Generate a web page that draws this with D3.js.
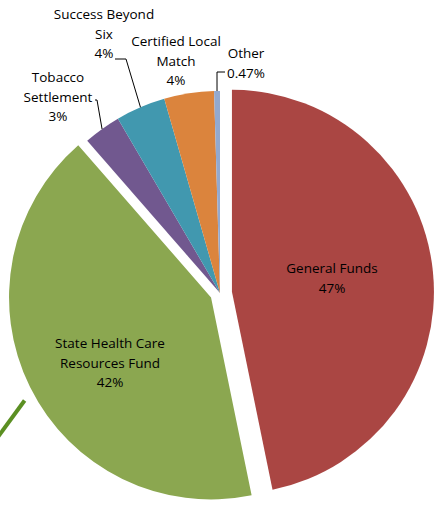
<!DOCTYPE html>
<html>
<head>
<meta charset="utf-8">
<script src="https://cdn.jsdelivr.net/npm/d3@7"></script>
<style>
body { margin: 0; background: #fff; }
text { font-family: "Open Sans", "Liberation Sans", Arial, sans-serif; font-size: 13.5px; fill: #000; }
</style>
</head>
<body>
<div id="chart"></div>
<script>
// data
var categories = ["General Funds", "State Health Care Resources Fund", "Tobacco Settlement",
                  "Success Beyond Six", "Certified Local Match", "Other"];
var values = [47, 42, 3, 4, 4, 0.47];
var pctLabels = ["47%", "42%", "3%", "4%", "4%", "0.47%"];
var nameLines = [["General Funds"], ["State Health Care", "Resources Fund"], ["Tobacco", "Settlement"],
                 ["Success Beyond", "Six"], ["Certified Local", "Match"], ["Other"]];

var colors = ["#AA4643", "#8BA750", "#71588F", "#4198AF", "#DB843D", "#93A9CF"];
var explode = [12, 10, 0, 0, 0, 0];

// label placement (x centre, first baseline) and leader elbows
var labelPos = [[332, 273], [110, 348], [58, 82], [104, 19], [176, 46], [246, 58]];
var leaders = {2: [[95, 100], [97, 100]], 3: [[115, 59], [126, 59]], 5: [[225, 72], [217, 72]]};

var width = 434, height = 529,
    cx = 220, cy = 293, radius = 202, lineH = 19.5;

var svg = d3.select("#chart").append("svg")
    .attr("width", width)
    .attr("height", height);

var data = categories.map(function (c, i) {
    return {name: c, value: values[i], i: i};
});

var pie = d3.pie().sort(null).value(function (d) { return d.value; });
var arc = d3.arc().innerRadius(0).outerRadius(radius);
var arcs = pie(data);

function offset(d) {
    var mid = (d.startAngle + d.endAngle) / 2, e = explode[d.data.i];
    return [cx + e * Math.sin(mid), cy - e * Math.cos(mid)];
}

var g = svg.append("g");

g.selectAll("path.slice")
    .data(arcs)
    .enter().append("path")
    .attr("class", "slice")
    .attr("transform", function (d) { return "translate(" + offset(d) + ")"; })
    .attr("d", arc)
    .attr("fill", function (d) { return colors[d.data.i]; });

// stray leader fragment from the green slice (cut at the left edge)
var green = arcs[1], gMid = (green.startAngle + green.endAngle) / 2 - 0.045, gO = offset(green);
var gx = gO[0] + (radius + 11) * Math.sin(gMid), gy = gO[1] - (radius + 11) * Math.cos(gMid);
svg.append("line")
    .attr("x1", gx).attr("y1", gy)
    .attr("x2", gx - 30).attr("y2", gy + 41)
    .attr("stroke", "#5B8F22")
    .attr("stroke-width", 4);

// leader lines
Object.keys(leaders).forEach(function (k) {
    var d = arcs[+k], mid = (d.startAngle + d.endAngle) / 2, o = offset(d);
    var end = [o[0] + radius * Math.sin(mid), o[1] - radius * Math.cos(mid)];
    var pts = leaders[k].concat([end]);
    svg.append("path")
        .attr("d", d3.line()(pts))
        .attr("fill", "none")
        .attr("stroke", "#000")
        .attr("stroke-width", 1);
});

// labels
arcs.forEach(function (d) {
    var i = d.data.i, p = labelPos[i];
    var lines = nameLines[i].concat([pctLabels[i]]);
    var t = svg.append("text").attr("text-anchor", "middle");
    lines.forEach(function (s, j) {
        t.append("tspan").attr("x", p[0]).attr("y", p[1] + j * lineH).text(s);
    });
});
</script>
</body>
</html>
